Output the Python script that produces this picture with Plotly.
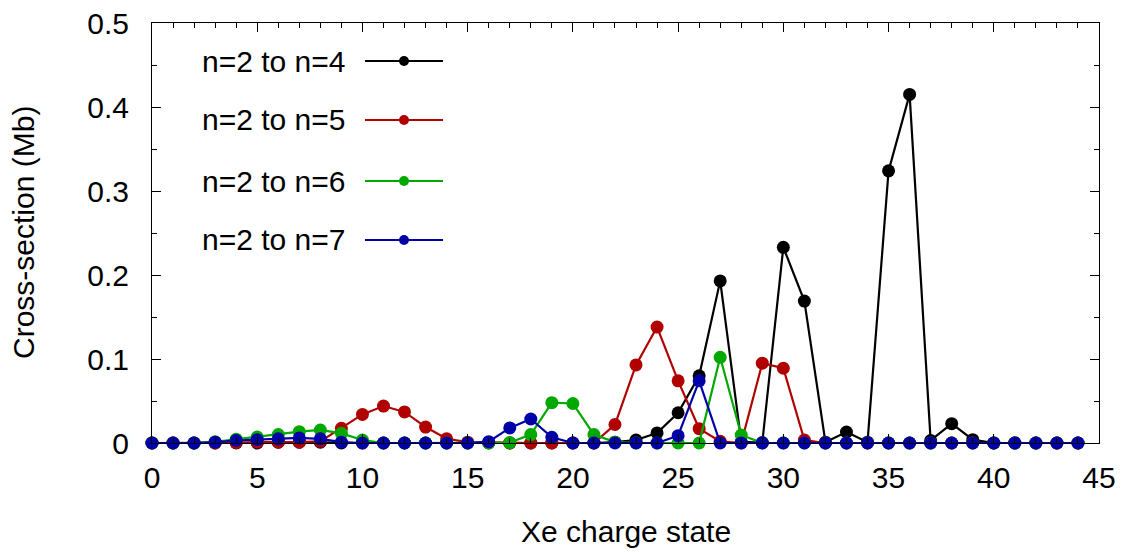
import plotly.graph_objects as go

# ---------------- data ----------------
charge = list(range(0, 45))

n2_to_n4 = [0, 0, 0, 0, 0, 0, 0.001, 0.001, 0.001, 0, 0, 0, 0, 0, 0, 0, 0, 0, 0, 0, 0, 0,
            0.001, 0.0036, 0.012, 0.036, 0.080, 0.193, 0.0015, 0.0005, 0.233, 0.169, 0.001,
            0.013, 0.001, 0.324, 0.415, 0.003, 0.023, 0.004, 0, 0, 0, 0, 0]
n2_to_n5 = [0, 0, 0, 0, 0.0005, 0.001, 0.001, 0.001, 0.002, 0.0175, 0.034, 0.044, 0.037,
            0.019, 0.005, 0.001, 0.0005, 0, 0, 0, 0, 0, 0.022, 0.093, 0.138, 0.074, 0.017,
            0.002, 0, 0.095, 0.089, 0.0035, 0, 0, 0, 0, 0, 0, 0, 0, 0, 0, 0, 0, 0]
n2_to_n6 = [0, 0, 0, 0.0015, 0.0045, 0.007, 0.010, 0.0135, 0.0155, 0.0115, 0.0036, 0, 0, 0,
            0, 0, 0, 0.0005, 0.010, 0.048, 0.047, 0.010, 0.001, 0, 0, 0, 0, 0.102, 0.0095,
            0, 0, 0, 0, 0, 0, 0, 0, 0, 0, 0, 0, 0, 0, 0, 0]
n2_to_n7 = [0, 0, 0, 0.001, 0.003, 0.004, 0.005, 0.006, 0.005, 0.001, 0, 0, 0, 0, 0, 0,
            0.0016, 0.018, 0.0286, 0.0068, 0, 0, 0, 0, 0, 0.0087, 0.074, 0, 0, 0, 0, 0, 0,
            0, 0, 0, 0, 0, 0, 0, 0, 0, 0, 0, 0]

series_names = ["n=2 to n=4", "n=2 to n=5", "n=2 to n=6", "n=2 to n=7"]
series_values = [n2_to_n4, n2_to_n5, n2_to_n6, n2_to_n7]
colors = ["#000000", "#b00000", "#00a800", "#0000a8"]

x_ticks = [0, 5, 10, 15, 20, 25, 30, 35, 40, 45]
y_ticks = [0, 0.1, 0.2, 0.3, 0.4, 0.5]
y_tick_labels = ["0", "0.1", "0.2", "0.3", "0.4", "0.5"]

# ---------------- layout geometry ----------------
W, H = 1128, 552
L, R, T, B = 152, 29, 23, 109
PW, PH = W - L - R, H - T - B
FONT = "Liberation Sans, Arial, sans-serif"
FS = 30

fig = go.Figure()
for name, vals, col in zip(series_names, series_values, colors):
    fig.add_trace(go.Scatter(
        x=charge, y=vals, mode="lines+markers", name=name,
        line=dict(color=col, width=2.2),
        marker=dict(color=col, size=13, line=dict(width=0)),
        cliponaxis=False,
        showlegend=False,
    ))

# manual gnuplot-style key (text left, sample right)
def px_to_paper_x(p):
    return (p - L) / PW

def py_to_paper_y(p):
    return (T + PH - p) / PH

shapes = []
annotations = []
row_y = [61, 120, 181, 240]
for name, col, ry in zip(series_names, colors, row_y):
    yy = py_to_paper_y(ry)
    annotations.append(dict(
        x=px_to_paper_x(347), y=yy, xref="paper", yref="paper",
        text=name, showarrow=False, xanchor="right", yanchor="middle",
        font=dict(family=FONT, size=FS, color="black"),
    ))
    shapes.append(dict(
        type="line", xref="paper", yref="paper",
        x0=px_to_paper_x(365), x1=px_to_paper_x(443), y0=yy, y1=yy,
        line=dict(color=col, width=2.2),
    ))
    shapes.append(dict(
        type="circle", xref="paper", yref="paper",
        xsizemode="pixel", ysizemode="pixel",
        xanchor=px_to_paper_x(404), yanchor=yy,
        x0=-5, x1=5, y0=-5, y1=5,
        fillcolor=col, line=dict(color=col, width=0),
    ))

# axis titles
annotations.append(dict(
    x=0.5, y=(H - 531 - B) / PH, xref="paper", yref="paper",
    text="Xe charge state", showarrow=False, xanchor="center", yanchor="middle",
    font=dict(family=FONT, size=FS, color="black"),
))
annotations.append(dict(
    x=(23 - L) / PW, y=0.5, xref="paper", yref="paper",
    text="Cross-section (Mb)", showarrow=False, xanchor="center", yanchor="middle",
    textangle=-90, font=dict(family=FONT, size=FS, color="black"),
))

fig.update_layout(
    width=W, height=H,
    margin=dict(l=L, r=R, t=T, b=B, pad=0, autoexpand=False),
    paper_bgcolor="white", plot_bgcolor="white",
    font=dict(family=FONT, size=FS, color="black"),
    shapes=shapes, annotations=annotations,
    showlegend=False,
)
fig.update_xaxes(
    range=[0, 45], tickvals=x_ticks, ticks="inside", ticklen=9, tickwidth=1,
    tickcolor="black", showgrid=False, zeroline=False, automargin=False,
    showline=True, linecolor="black", linewidth=1, mirror="allticks",
    minor=dict(dtick=1, ticks="inside", ticklen=5, tickcolor="black", tickwidth=1, showgrid=False),
    ticklabelstandoff=8,
    tickfont=dict(family=FONT, size=FS, color="black"),
)
fig.update_yaxes(
    range=[0, 0.5], tickvals=y_ticks, ticktext=y_tick_labels, ticks="inside", ticklen=9,
    tickwidth=1, tickcolor="black", showgrid=False, zeroline=False, automargin=False,
    showline=True, linecolor="black", linewidth=1, mirror="allticks",
    minor=dict(dtick=0.05, ticks="inside", ticklen=5, tickcolor="black", tickwidth=1, showgrid=False),
    ticklabelstandoff=16,
    tickfont=dict(family=FONT, size=FS, color="black"),
)

fig.write_html("out.html")
